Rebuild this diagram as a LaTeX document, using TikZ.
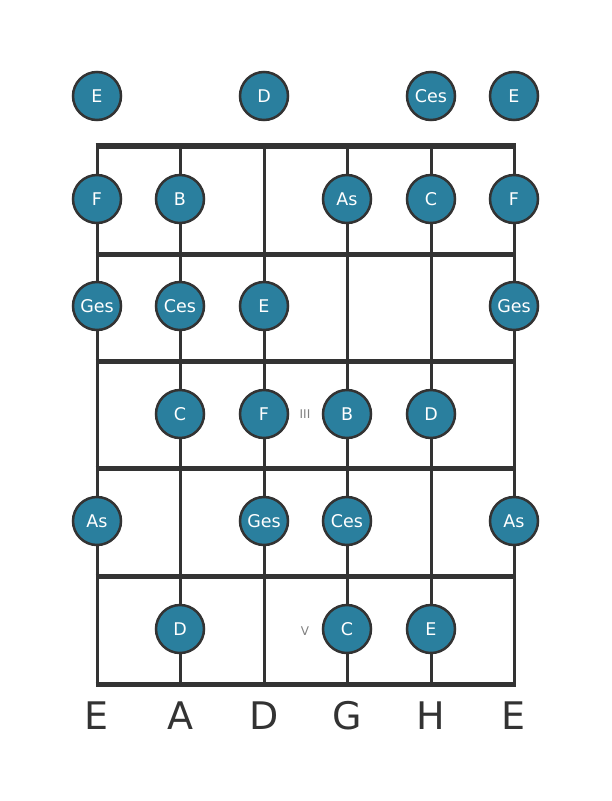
\documentclass[tikz,border=0pt]{standalone}
\usepackage{fontspec}
\setmainfont{DejaVu Sans}
\usetikzlibrary{positioning}
\definecolor{notefill}{HTML}{2A7F9E}
\definecolor{linegray}{HTML}{333333}
\tikzset{note node/.style={circle,fill=notefill,draw=linegray,line width=2.5pt,minimum size=48pt,inner sep=0pt,text=white,font=\fontsize{17.5}{17.5}\selectfont},}
\tikzset{string label/.style={text=linegray,font=\fontsize{38}{38}\selectfont},}
\tikzset{fret label/.style={text=gray,font=\fontsize{12}{12}\selectfont},}

\begin{document}
\begin{tikzpicture}[x=1pt,y=-1pt]
     \useasboundingbox (0,0) rectangle (611,801);
     % strings
     \foreach \s/\x in {1/97,2/180,3/264,4/347,5/431,6/514}
        \draw[linegray,line width=3pt] (\x,146) -- (\x,684);
     % frets
     \draw[linegray,line width=6pt] (95.5,146) -- (515.5,146);
     \foreach \y in {254,361,468,576,684}
        \draw[linegray,line width=5pt] (95.5,\y) -- (515.5,\y);
     % string names
     \foreach \s/\x/\t in {1/97/E,2/180/A,3/264/D,4/347/G,5/431/H,6/514/E}
        \node[string label] (name\s) at (\x,716) {\t};
     % position marks
     \node[fret label] (mark3) at (305,414) {III};
     \node[fret label] (mark5) at (305,631) {V};
     % notes
     \foreach \n/\x/\y/\t in {
        o1/97/96/E, o3/264/96/D, o5/431/96/Ces, o6/514/96/E,
        a1/97/199/F, a2/180/199/B, a4/347/199/As, a5/431/199/C, a6/514/199/F,
        b1/97/306/Ges, b2/180/306/Ces, b3/264/306/E, b6/514/306/Ges,
        c2/180/414/C, c3/264/414/F, c4/347/414/B, c5/431/414/D,
        d1/97/521/As, d3/264/521/Ges, d4/347/521/Ces, d6/514/521/As,
        e2/180/629/D, e4/347/629/C, e5/431/629/E}
        \node[note node] (\n) at (\x,\y) {\t};
  \end{tikzpicture}
\end{document}
